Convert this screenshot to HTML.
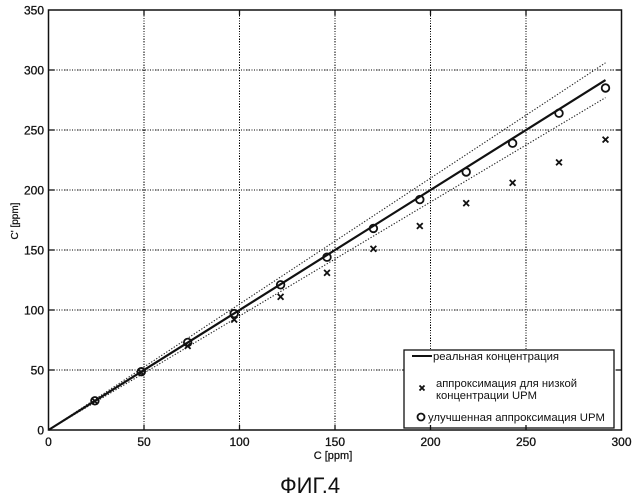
<!DOCTYPE html>
<html><head><meta charset="utf-8"><style>
html,body{margin:0;padding:0;background:#fff;}
svg{display:block;}
text{font-family:"Liberation Sans",Arial,sans-serif;fill:#111;}
</style></head><body>
<svg width="634" height="500" viewBox="0 0 634 500" xmlns="http://www.w3.org/2000/svg">
<rect width="634" height="500" fill="#fff"/>
<!-- grid -->
<g stroke="#000" stroke-width="1" stroke-dasharray="1.2,1.4" fill="none" shape-rendering="crispEdges">
<line x1="144" y1="10" x2="144" y2="430"/>
<line x1="239.5" y1="10" x2="239.5" y2="430"/>
<line x1="335" y1="10" x2="335" y2="430"/>
<line x1="430.5" y1="10" x2="430.5" y2="430"/>
<line x1="526" y1="10" x2="526" y2="430"/>
<line x1="48.5" y1="370" x2="621.5" y2="370"/>
<line x1="48.5" y1="310" x2="621.5" y2="310"/>
<line x1="48.5" y1="250" x2="621.5" y2="250"/>
<line x1="48.5" y1="190" x2="621.5" y2="190"/>
<line x1="48.5" y1="130" x2="621.5" y2="130"/>
<line x1="48.5" y1="70" x2="621.5" y2="70"/>
</g>
<!-- bounds -->
<g stroke="#222" stroke-width="1.1" stroke-dasharray="1.3,1.7" fill="none">
<line x1="48.5" y1="430" x2="605.5" y2="62.8"/>
<line x1="48.5" y1="430" x2="605.5" y2="97.6"/>
</g>
<!-- real line -->
<line x1="48.5" y1="430" x2="605.5" y2="80.1" stroke="#111" stroke-width="2.2"/>
<!-- crosses -->
<g stroke="#111" stroke-width="1.8" fill="none">
<path d="M92 398.3l5.8 5.8M97.8 398.3l-5.8 5.8"/>
<path d="M138.4 369.5l5.8 5.8M144.2 369.5l-5.8 5.8"/>
<path d="M184.8 343.1l5.8 5.8M190.6 343.1l-5.8 5.8"/>
<path d="M231.3 316.7l5.8 5.8M237.1 316.7l-5.8 5.8"/>
<path d="M277.7 293.9l5.8 5.8M283.5 293.9l-5.8 5.8"/>
<path d="M324.1 269.9l5.8 5.8M329.9 269.9l-5.8 5.8"/>
<path d="M370.5 245.9l5.8 5.8M376.3 245.9l-5.8 5.8"/>
<path d="M416.9 223.1l5.8 5.8M422.7 223.1l-5.8 5.8"/>
<path d="M463.3 200.3l5.8 5.8M469.1 200.3l-5.8 5.8"/>
<path d="M509.7 179.9l5.8 5.8M515.5 179.9l-5.8 5.8"/>
<path d="M556.1 159.5l5.8 5.8M561.9 159.5l-5.8 5.8"/>
<path d="M602.6 136.7l5.8 5.8M608.4 136.7l-5.8 5.8"/>
</g>
<!-- circles -->
<g stroke="#111" stroke-width="1.8" fill="none">
<circle cx="94.9" cy="400.8" r="3.8"/>
<circle cx="141.3" cy="371.7" r="3.8"/>
<circle cx="187.7" cy="342.4" r="3.8"/>
<circle cx="234.2" cy="313.6" r="3.8"/>
<circle cx="280.6" cy="284.8" r="3.8"/>
<circle cx="327" cy="257.2" r="3.8"/>
<circle cx="373.4" cy="228.4" r="3.8"/>
<circle cx="419.8" cy="199.6" r="3.8"/>
<circle cx="466.2" cy="172" r="3.8"/>
<circle cx="512.6" cy="143.2" r="3.8"/>
<circle cx="559" cy="113.2" r="3.8"/>
<circle cx="605.5" cy="88" r="3.8"/>
</g>
<!-- legend -->
<rect x="404" y="350" width="210" height="78" fill="#fff" stroke="#111" stroke-width="1.3"/>
<line x1="412" y1="356" x2="432" y2="356" stroke="#111" stroke-width="2"/>
<text x="433" y="360" font-size="11" textLength="126" lengthAdjust="spacingAndGlyphs">реальная концентрация</text>
<path d="M419.5 385.5l5 5M424.5 385.5l-5 5" stroke="#111" stroke-width="1.8"/>
<text x="436" y="387" font-size="11" textLength="141" lengthAdjust="spacingAndGlyphs">аппроксимация для низкой</text>
<text x="436" y="399" font-size="11" textLength="101" lengthAdjust="spacingAndGlyphs">концентрации UPM</text>
<circle cx="421" cy="417" r="3.5" stroke="#111" stroke-width="1.8" fill="none"/>
<text x="428" y="421" font-size="11" textLength="177" lengthAdjust="spacingAndGlyphs">улучшенная аппроксимация UPM</text>
<!-- axes frame -->
<rect x="48.5" y="10" width="573" height="420" fill="none" stroke="#111" stroke-width="1.5"/>
<!-- ticks -->
<g stroke="#111" stroke-width="1.3">
<line x1="144" y1="430" x2="144" y2="425"/><line x1="239.5" y1="430" x2="239.5" y2="425"/>
<line x1="335" y1="430" x2="335" y2="425"/><line x1="430.5" y1="430" x2="430.5" y2="425"/>
<line x1="526" y1="430" x2="526" y2="425"/>
<line x1="144" y1="10" x2="144" y2="15"/><line x1="239.5" y1="10" x2="239.5" y2="15"/>
<line x1="335" y1="10" x2="335" y2="15"/><line x1="430.5" y1="10" x2="430.5" y2="15"/>
<line x1="526" y1="10" x2="526" y2="15"/>
<line x1="48.5" y1="370" x2="54" y2="370"/><line x1="48.5" y1="310" x2="54" y2="310"/>
<line x1="48.5" y1="250" x2="54" y2="250"/><line x1="48.5" y1="190" x2="54" y2="190"/>
<line x1="48.5" y1="130" x2="54" y2="130"/><line x1="48.5" y1="70" x2="54" y2="70"/>
<line x1="621.5" y1="370" x2="616" y2="370"/><line x1="621.5" y1="310" x2="616" y2="310"/>
<line x1="621.5" y1="250" x2="616" y2="250"/><line x1="621.5" y1="190" x2="616" y2="190"/>
<line x1="621.5" y1="130" x2="616" y2="130"/><line x1="621.5" y1="70" x2="616" y2="70"/>
</g>
<!-- y tick labels -->
<g font-size="12" text-anchor="end" stroke="#111" stroke-width="0.3">
<text x="44" y="14.5">350</text>
<text x="44" y="74.5">300</text>
<text x="44" y="134.5">250</text>
<text x="44" y="194.5">200</text>
<text x="44" y="254.5">150</text>
<text x="44" y="314.5">100</text>
<text x="44" y="374.5">50</text>
<text x="44" y="434.5">0</text>
</g>
<!-- x tick labels -->
<g font-size="12" text-anchor="middle" stroke="#111" stroke-width="0.3">
<text x="48.5" y="446">0</text>
<text x="144" y="446">50</text>
<text x="239.5" y="446">100</text>
<text x="335" y="446">150</text>
<text x="430.5" y="446">200</text>
<text x="526" y="446">250</text>
<text x="621.5" y="446">300</text>
</g>
<text x="333" y="459" font-size="11" text-anchor="middle" stroke="#111" stroke-width="0.25">C [ppm]</text>
<text transform="translate(18,221) rotate(-90)" font-size="10" text-anchor="middle" stroke="#111" stroke-width="0.25">C' [ppm]</text>
<text x="310" y="493" font-size="22" text-anchor="middle">ФИГ.4</text>
</svg>
</body></html>
